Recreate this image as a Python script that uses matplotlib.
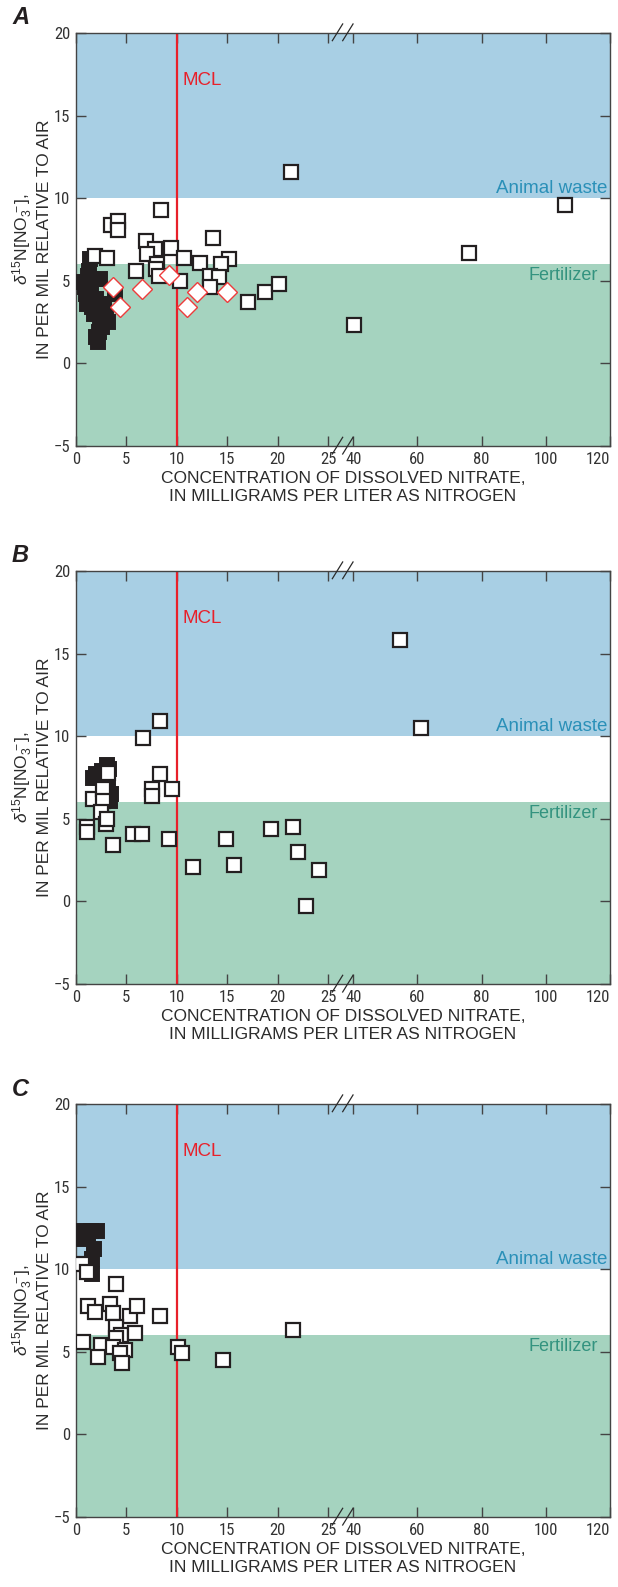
import numpy as np
import matplotlib
matplotlib.use('Agg')
import matplotlib.pyplot as plt
from matplotlib import font_manager

plt.rcParams['font.family'] = ['Liberation Sans', 'DejaVu Sans']
plt.rcParams['mathtext.fontset'] = 'custom'
plt.rcParams['mathtext.rm'] = 'Liberation Sans'
plt.rcParams['mathtext.it'] = 'Liberation Sans:italic'

# ---- data ----
a_open_x = [21.3, 8.4, 3.5, 4.2, 4.2, 6.9, 7.8, 7.0, 9.4, 13.6, 1.9, 3.1, 10.7, 12.3, 15.2,
            14.4, 8.0, 7.9, 6.0, 8.2, 13.3, 14.2, 10.3, 13.3, 17.1, 18.8, 20.1, 40.2, 76.2, 105.9]
a_open_y = [11.6, 9.3, 8.4, 8.6, 8.1, 7.4, 6.9, 6.6, 7.0, 7.6, 6.5, 6.4, 6.4, 6.1, 6.3,
            6.0, 6.0, 5.7, 5.6, 5.3, 5.3, 5.2, 5.0, 4.6, 3.7, 4.3, 4.8, 2.3, 6.7, 9.6]
a_fill_x = [1.4, 1.2, 1.6, 2.4, 0.9, 1.0, 1.5, 2.0, 1.1, 1.6, 2.4, 1.8, 2.4, 3.0, 3.2, 2.6,
            2.3, 2.0, 2.2, 3.9, 1.3, 2.8, 2.9, 0.8]
a_fill_y = [6.3, 5.3, 5.1, 5.1, 4.6, 4.2, 4.4, 3.9, 3.6, 3.4, 3.2, 3.0, 2.8, 2.7, 2.5, 2.2,
            1.9, 1.6, 1.3, 4.2, 5.6, 3.6, 3.0, 4.9]
a_dia_x = [3.7, 4.4, 6.5, 9.2, 11.0, 12.0, 15.0]
a_dia_y = [4.65, 3.4, 4.5, 5.35, 3.4, 4.35, 4.35]

b_open_x = [1.1, 1.1, 1.7, 2.7, 2.7, 2.5, 3.0, 3.1, 3.2, 3.7, 5.7, 6.5, 6.6, 7.5, 7.5, 8.3,
            8.3, 9.2, 9.5, 11.6, 14.9, 15.7, 19.3, 21.5, 22.0, 24.1, 22.8, 54.6, 61.0]
b_open_y = [4.5, 4.2, 6.2, 6.8, 6.1, 5.4, 4.7, 5.0, 7.8, 3.4, 4.1, 4.1, 9.9, 6.8, 6.4, 10.9,
            7.7, 3.8, 6.8, 2.1, 3.8, 2.2, 4.4, 4.5, 3.0, 1.9, -0.3, 15.85, 10.5]
b_fill_x = [2.0, 1.7, 3.05, 3.2, 3.5, 3.4, 2.6, 3.3]
b_fill_y = [7.7, 7.5, 8.25, 7.3, 6.5, 6.1, 7.9, 8.0]

c_open_x = [0.6, 1.1, 4.0, 1.2, 1.9, 3.4, 3.7, 5.4, 6.1, 8.3, 4.0, 4.5, 5.9, 4.0, 0.7,
            2.45, 2.2, 3.7, 4.9, 4.4, 4.6, 10.1, 10.5, 14.6, 21.5]
c_open_y = [10.3, 9.85, 9.1, 7.75, 7.4, 7.9, 7.35, 7.15, 7.8, 7.15, 6.5, 6.0, 6.15, 5.85, 5.6,
            5.4, 4.7, 5.3, 5.1, 4.9, 4.3, 5.3, 4.9, 4.5, 6.3]
c_fill_x = [0.7, 1.5, 2.1, 0.7, 1.2, 1.8, 1.6, 1.6]
c_fill_y = [12.3, 12.3, 12.3, 11.8, 11.9, 11.2, 10.6, 9.7]

panels = [
    ('A', a_open_x, a_open_y, a_fill_x, a_fill_y, a_dia_x, a_dia_y),
    ('B', b_open_x, b_open_y, b_fill_x, b_fill_y, [], []),
    ('C', c_open_x, c_open_y, c_fill_x, c_fill_y, [], []),
]
x_ticks = [0, 5, 10, 15, 20, 25, 40, 60, 80, 100, 120]
y_ticks = [-5, 0, 5, 10, 15, 20]


# broken x axis: 0-25 wide, gap, 40-120 compressed
def fwd(x):
    x = np.asarray(x, dtype=float)
    return np.where(x <= 25, x * 10.08,
                    np.where(x <= 40, 252 + (x - 25) * 25.3 / 15, 277.3 + (x - 40) * 3.209))


def inv(p):
    p = np.asarray(p, dtype=float)
    return np.where(p <= 252, p / 10.08,
                    np.where(p <= 277.3, 25 + (p - 252) * 15 / 25.3, 40 + (p - 277.3) / 3.209))


# tick labels use a narrow face when one is installed
installed = {f.name for f in font_manager.fontManager.ttflist}
narrow = None
for cand in ['Liberation Sans Narrow', 'DejaVu Sans Condensed', 'Roboto Condensed',
             'Open Sans Condensed', 'Noto Sans Condensed']:
    if cand in installed:
        narrow = cand
        break
if narrow:
    tick_family, tick_size = [narrow, 'DejaVu Sans'], 12
else:
    tick_family, tick_size = ['Liberation Sans', 'DejaVu Sans'], 11

W, H = 618, 1587
fig = plt.figure(figsize=(W / 100, H / 100), dpi=100)
bottoms = [446, 984, 1517]
blue = '#a8cfe4'
green = '#a5d3bf'
dark = '#2b2b2b'

for (letter, ox, oy, fx, fy, dx, dy), bot in zip(panels, bottoms):
    ax = fig.add_axes([76 / W, 1 - bot / H, 534 / W, 413 / H])
    ax.set_xscale('function', functions=(fwd, inv))
    ax.set_xlim(0, 120)
    ax.set_ylim(-5, 20)

    ax.axhspan(10, 20, color=blue, lw=0, zorder=0)
    ax.axhspan(-5, 6, color=green, lw=0, zorder=0)
    ax.axvline(10, color='#e8202a', lw=1.6, zorder=2)

    ax.plot(fx, fy, 's', ms=10, mfc='#231f20', mec='#231f20', mew=1.4, ls='none', zorder=3)
    ax.plot(ox, oy, 's', ms=10, mfc='white', mec='#231f20', mew=1.6, ls='none', zorder=4)
    if dx:
        ax.plot(dx, dy, 'D', ms=10.5, mfc='white', mec='#ee3b3b', mew=1.0, ls='none', zorder=5)

    ax.text(10.6, 17.1, 'MCL', color='#e8202a', fontsize=13.5, va='center', ha='left')
    ax.text(119.2, 10.1, 'Animal waste', color='#2a90b8', fontsize=13.5, va='bottom', ha='right')
    ax.text(116.3, 5.3, 'Fertilizer', color='#33937f', fontsize=13, va='center', ha='right')

    ax.set_xticks(x_ticks)
    labels = ax.set_xticklabels([str(t) for t in x_ticks], family=tick_family,
                                fontsize=tick_size, color='#333333')
    labels[-1].set_horizontalalignment('right')
    ax.set_yticks(y_ticks)
    ax.set_yticklabels(['\u22125' if t < 0 else str(t) for t in y_ticks],
                       family=tick_family, fontsize=tick_size, color='#333333')
    ax.minorticks_off()
    ax.tick_params(direction='in', length=7, width=1, color='#444444',
                   top=True, right=True, pad=4)
    for s in ax.spines.values():
        s.set_color('#444444')
        s.set_linewidth(1.0)

    ax.set_xlabel('CONCENTRATION OF DISSOLVED NITRATE,\nIN MILLIGRAMS PER LITER AS NITROGEN',
                  fontsize=12.5, color=dark, labelpad=3, linespacing=1.25)
    ax.set_ylabel('$\\delta^{15}$N[NO$_3^{\\,-}$],\nIN PER MIL RELATIVE TO AIR',
                  fontsize=12.5, color=dark, labelpad=1, linespacing=1.2)

    # break marks on top and bottom spines
    for x0 in (0.480, 0.4994):
        for y0 in (0.9814, -0.0194):
            ax.plot([x0, x0 + 0.0194], [y0, y0 + 0.0405], transform=ax.transAxes,
                    color=dark, lw=0.9, clip_on=False, zorder=6)

    fig.text(12 / W, 1 - (bot - 413 - 15) / H, letter, fontsize=17, fontweight='bold',
             fontstyle='italic', va='center', ha='left', color='#231f20')

fig.savefig('out.png', dpi=100)
